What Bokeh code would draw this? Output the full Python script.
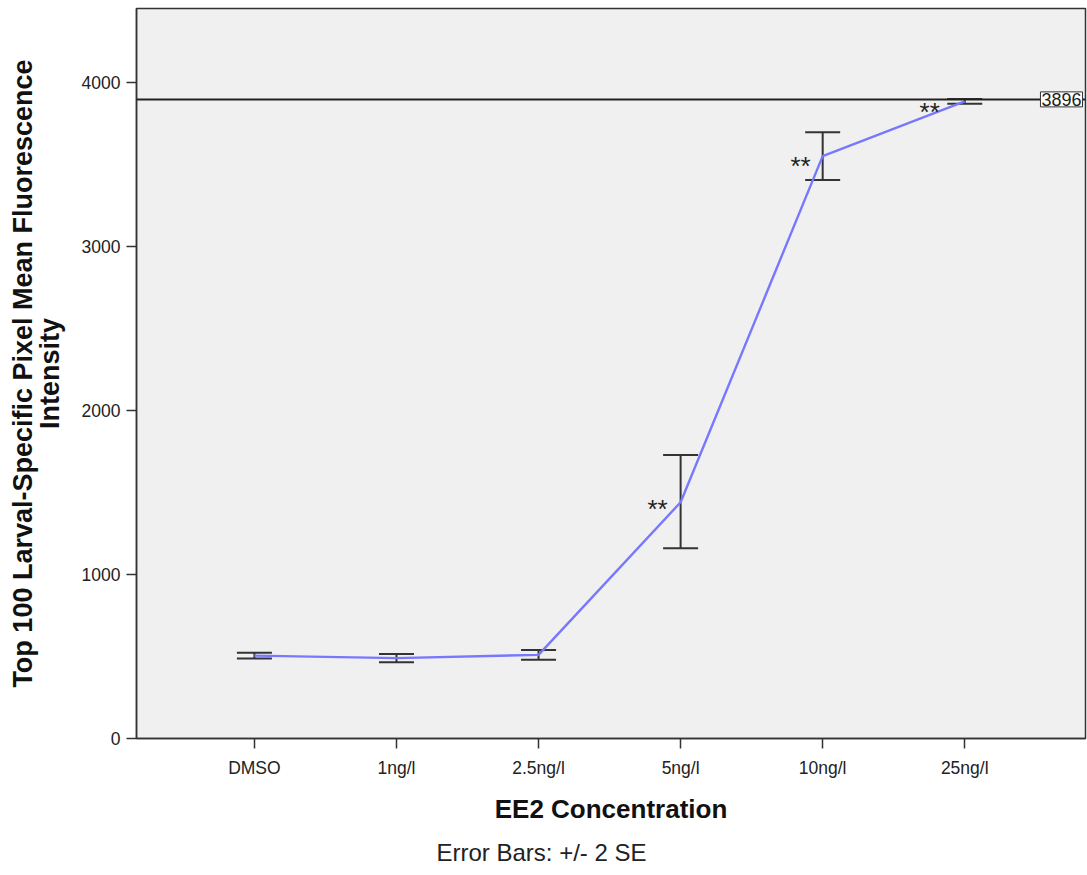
from bokeh.plotting import figure
from bokeh.models import (ColumnDataSource, Range1d, Whisker, TeeHead, Span, Label,
                          FixedTicker, Title)
from bokeh.core.properties import value
from bokeh.embed import file_html
from bokeh.resources import INLINE

# ---- data ----
categories = ["DMSO", "1ng/l", "2.5ng/l", "5ng/l", "10ng/l", "25ng/l"]
means = [505, 490, 510, 1440, 3550, 3884]
upper = [523, 515, 540, 1728, 3695, 3898]
lower = [487, 465, 480, 1160, 3405, 3870]
sig_categories = ["5ng/l", "10ng/l", "25ng/l"]
sig_labels = ["**", "**", "**"]
ref_value = 3896
y_ticks = [0, 1000, 2000, 3000, 4000]
y_title = "Top 100 Larval-Specific Pixel Mean Fluorescence\nIntensity"
x_title = "EE2 Concentration"
footnote = "Error Bars: +/- 2 SE"

FONT = "Liberation Sans"
xpos = [i + 1 for i in range(len(categories))]
X0, X1, Y0, Y1 = 0.17, 6.85, 0, 4450

p = figure(width=1087, height=875, output_backend="svg", toolbar_location=None,
           x_range=Range1d(X0, X1), y_range=Range1d(Y0, Y1),
           min_border_left=136, min_border_right=2, min_border_top=8,
           min_border_bottom=135)
p.background_fill_color = "#F0F0F0"
p.border_fill_color = "white"
p.outline_line_color = "#333333"
p.outline_line_width = 1.5
p.grid.visible = False

src = ColumnDataSource(dict(x=xpos, mean=means, upper=upper, lower=lower))

p.line("x", "mean", source=src, line_color="#7878FF", line_width=2.4)

w = Whisker(base="x", upper="upper", lower="lower", source=src,
            line_color="#333333", line_width=2,
            upper_head=TeeHead(size=35, line_color="#333333", line_width=2),
            lower_head=TeeHead(size=35, line_color="#333333", line_width=2))
p.add_layout(w)

# reference line
p.add_layout(Span(location=ref_value, dimension="width", line_color="#222222", line_width=2))
p.add_layout(Label(x=X1, y=ref_value, text=str(ref_value), text_align="right",
                   text_baseline="middle", x_offset=-3, text_font=FONT,
                   text_font_size="18px", text_color="#222222",
                   border_line_color="#333333", border_line_width=1,
                   background_fill_color="white", padding=1))

# significance markers
sig_dx = [-13, -12, -25]
sig_dy = [7, 10, 11]
sig_x = [categories.index(c) + 1 for c in sig_categories]
sig_y = [means[categories.index(c)] for c in sig_categories]
ssrc = ColumnDataSource(dict(x=sig_x, y=sig_y, t=sig_labels, dx=sig_dx, dy=sig_dy))
p.text("x", "y", text="t", source=ssrc, x_offset="dx", y_offset="dy",
       text_align="right", text_baseline="alphabetic", text_font=value(FONT),
       text_font_size="26px", text_color="#222222")

# axes
p.xaxis.ticker = FixedTicker(ticks=xpos)
p.xaxis.major_label_overrides = {x: c for x, c in zip(xpos, categories)}
p.yaxis.ticker = FixedTicker(ticks=y_ticks)
for ax in (p.xaxis[0], p.yaxis[0]):
    ax.axis_line_color = "#333333"
    ax.axis_line_width = 1.5
    ax.major_tick_line_color = "#333333"
    ax.major_tick_line_width = 1.5
    ax.major_tick_out = 10
    ax.major_tick_in = 0
    ax.minor_tick_line_color = None
    ax.major_label_text_font = FONT
    ax.major_label_text_font_size = "17.5px"
    ax.major_label_text_color = "#222222"
    ax.axis_label_text_font = FONT
    ax.axis_label_text_font_style = "bold"
    ax.axis_label_text_color = "#111111"

p.xaxis.axis_label = x_title
p.xaxis.axis_label_text_font_size = "26px"
p.xaxis.major_label_standoff = 9
p.xaxis.axis_label_standoff = 13

p.yaxis.axis_label = y_title
p.yaxis.axis_label_text_font_size = "27px"
p.yaxis.axis_label_text_line_height = 0.88
p.yaxis.major_label_standoff = 6
p.yaxis.axis_label_standoff = 14

p.add_layout(Title(text=footnote, align="left", offset=300,
                   text_font=FONT, text_font_size="24px", text_font_style="normal",
                   text_color="#222222", standoff=20), "below")

open("out.html", "w").write(file_html(p, INLINE))
